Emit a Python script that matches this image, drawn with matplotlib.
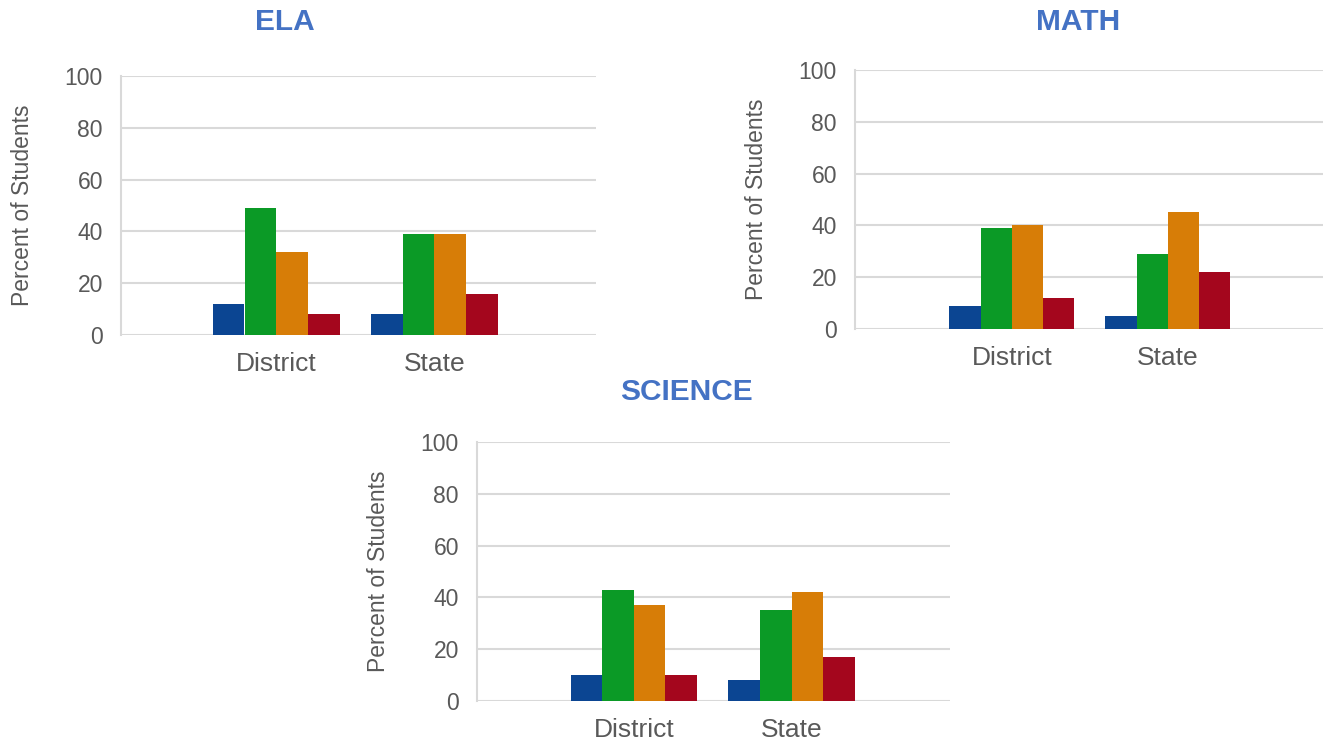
import matplotlib
matplotlib.use("Agg")
import matplotlib.pyplot as plt
import numpy as np

plt.rcParams['font.family'] = ['Liberation Sans', 'DejaVu Sans']

categories = ["District", "State"]
levels = ["Level 1", "Level 2", "Level 3", "Level 4"]
colors = ["#0B4592", "#0B9A26", "#D77D07", "#A4061D"]

ela = {"Level 1": [12, 8], "Level 2": [49, 39], "Level 3": [32, 39], "Level 4": [8, 16]}
math_ = {"Level 1": [9, 5], "Level 2": [39, 29], "Level 3": [40, 45], "Level 4": [12, 22]}
science = {"Level 1": [10, 8], "Level 2": [43, 35], "Level 3": [37, 42], "Level 4": [10, 17]}

yticks = [0, 20, 40, 60, 80, 100]

W, H = 1323, 742
fig = plt.figure(figsize=(W / 100, H / 100), dpi=100)

def rect(l, r, t, b):
    return [l / W, 1 - b / H, (r - l) / W, (b - t) / H]

panels = [
    ("ELA", ela, rect(121, 596, 76, 335), (285, 22), 0.02),
    ("MATH", math_, rect(855, 1323, 70, 329), (1078, 22), -0.005),
    ("SCIENCE", science, rect(477, 950, 442, 701), (686, 392), 0.005),
]

grid_c = "#d9d9d9"
text_c = "#595959"
bw = 0.2

for title, data, r, (tx, ty), off in panels:
    ax = fig.add_axes(r)
    x = np.arange(1, len(categories) + 1)
    for i, lv in enumerate(levels):
        ax.bar(x + (i - 1.5) * bw, data[lv], width=bw, color=colors[i],
               edgecolor="none", zorder=3)
    ax.set_xlim(off, 3 + off)
    ax.set_ylim(0, 100)
    ax.set_yticks(yticks)
    ax.set_xticks(x)
    ax.set_xticklabels(categories)
    ax.grid(axis="y", color=grid_c, linewidth=1.5, zorder=0)
    for s in ["top", "right", "bottom"]:
        ax.spines[s].set_visible(False)
    ax.spines["left"].set_color(grid_c)
    ax.spines["left"].set_linewidth(1.5)
    ax.tick_params(axis="y", length=0, pad=13, labelsize=16.5, labelcolor=text_c)
    ax.tick_params(axis="x", length=0, pad=12, labelsize=19, labelcolor=text_c)
    ax.set_ylabel("Percent of Students", fontsize=16.5, color=text_c, labelpad=22)
    fig.text(tx / W, 1 - ty / H, title, ha="center", va="center",
             fontsize=21.5, fontweight="bold", color="#4472C4")

fig.savefig("out.png", dpi=100)
